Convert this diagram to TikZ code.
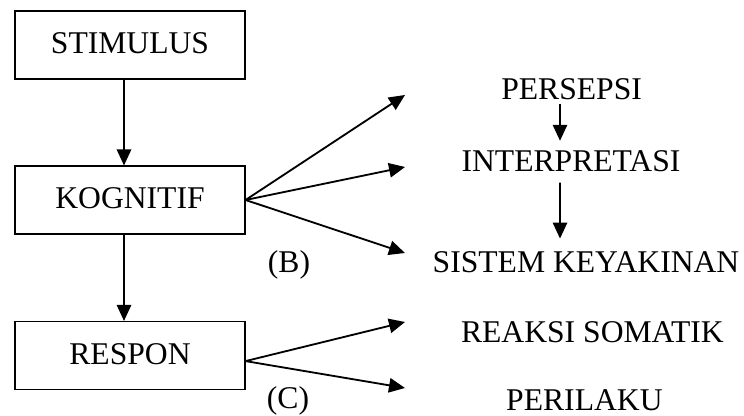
\documentclass[tikz,border=0pt]{standalone}
\usepackage{fontspec}
\setmainfont{Liberation Serif}
\usetikzlibrary{arrows.meta,calc}

\tikzset{
  box/.style={draw, line width=0.8pt, minimum width=5.75cm, minimum height=1.7cm, inner sep=0pt, text depth=0.25em, font=\fontsize{22.5}{27}\selectfont},
  lbl/.style={anchor=base, inner sep=0pt, font=\fontsize{22.5}{27}\selectfont},
  arr/.style={line width=1.3pt, -{Triangle[length=0.4cm,width=0.36cm]}}
}

\begin{document}
\begin{tikzpicture}
        \useasboundingbox (0,0) rectangle (18.6,10.4);
        \node[box] (stim) at (3.25,9.275) {STIMULUS};
        \node[box] (kog) at (3.25,5.4) {KOGNITIF};
        \node[box] (resp) at (3.25,1.5125) {RESPON};
        \node[lbl] (persepsi) at (14.29,7.9) {PERSEPSI};
        \node[lbl] (interp) at (14.275,6.1) {INTERPRETASI};
        \node[lbl] (sistem) at (14.65,3.575) {SISTEM KEYAKINAN};
        \node[lbl] (reaksi) at (14.81,1.825) {REAKSI SOMATIK};
        \node[lbl] (perilaku) at (14.61,0.125) {PERILAKU};
        \node[lbl] (b) at (7.225,3.575) {(B)};
        \node[lbl] (c) at (7.2,0.19) {(C)};
        \coordinate (p1) at (10.125,8.025);
        \coordinate (p2) at (10.125,6.225);
        \coordinate (p3) at (10.125,4.075);
        \coordinate (r1) at (10.125,2.35);
        \coordinate (r2) at (10.125,0.7);
        \draw[arr] ([xshift=-0.15cm]stim.south) -- ([xshift=-0.15cm]kog.north);
        \draw[arr] ([xshift=-0.15cm]kog.south) -- ([xshift=-0.15cm]resp.north);
        \draw[arr] (kog.east) -- (p1);
        \draw[arr] (kog.east) -- (p2);
        \draw[arr] (kog.east) -- (p3);
        \draw[arr] ([yshift=-0.14cm]resp.east) -- (r1);
        \draw[arr] ([yshift=-0.14cm]resp.east) -- (r2);
        \draw[arr] ([xshift=-0.29cm,yshift=-0.075cm]persepsi.south) -- ([xshift=-0.275cm,yshift=0.25cm]interp.north);
        \draw[arr] ([xshift=-0.275cm,yshift=-0.25cm]interp.south) -- ([xshift=-0.65cm,yshift=0.33cm]sistem.north);
    \end{tikzpicture}
\end{document}
